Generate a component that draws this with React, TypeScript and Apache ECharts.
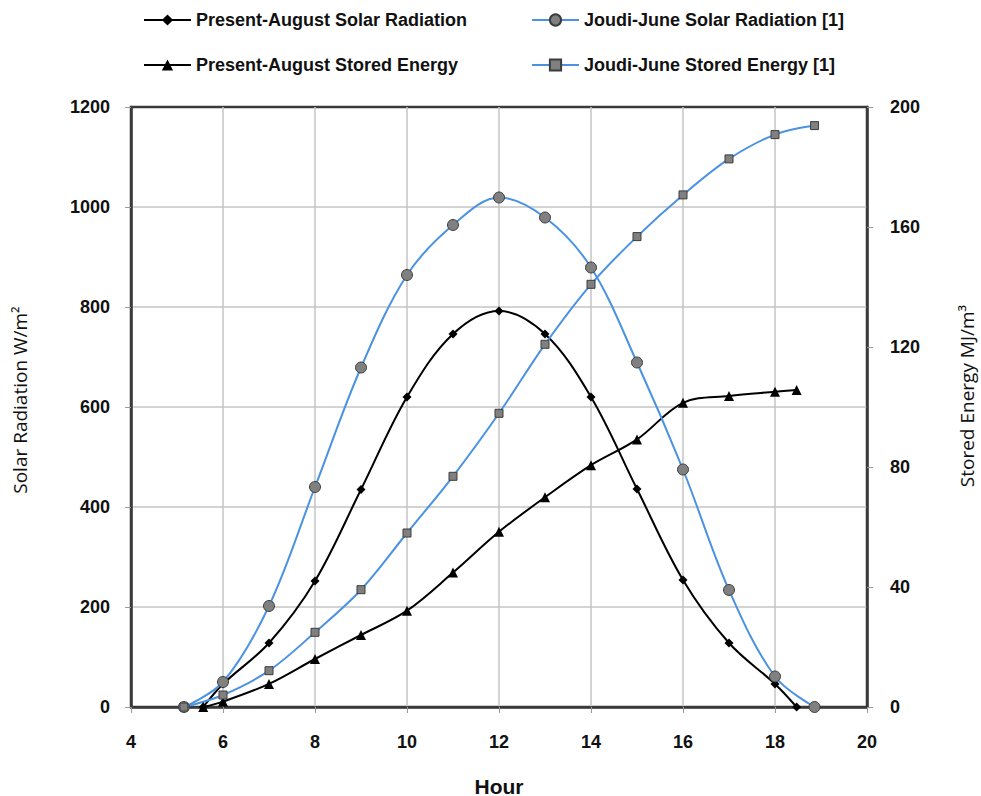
import React, { useEffect, useRef } from "react";
import * as echarts from "echarts";

const presentSolarHours = [5.57, 6, 7, 8, 9, 10, 11, 12, 13, 14, 15, 16, 17, 18, 18.47];
const presentSolar = [0, 46, 128, 252, 435, 620, 746, 792, 746, 620, 436, 254, 128, 46, 0];

const joudiSolarHours = [5.15, 6, 7, 8, 9, 10, 11, 12, 13, 14, 15, 16, 17, 18, 18.86];
const joudiSolar = [0, 50, 202, 440, 679, 864, 964, 1019, 979, 879, 689, 475, 234, 61, 0];

const presentStoredHours = [5.57, 6, 7, 8, 9, 10, 11, 12, 13, 14, 15, 16, 17, 18, 18.47];
const presentStored = [0, 1.8, 7.7, 16, 24, 32.1, 44.8, 58.4, 69.9, 80.6, 89.2, 101.4, 103.7, 105.1, 105.7];

const joudiStoredHours = [5.15, 6, 7, 8, 9, 10, 11, 12, 13, 14, 15, 16, 17, 18, 18.86];
const joudiStored = [0, 4, 12.1, 24.9, 39.1, 58, 76.9, 97.9, 120.9, 140.9, 156.8, 170.7, 182.7, 190.8, 193.8];

const seriesNames = [
  "Present-August Solar Radiation",
  "Joudi-June Solar Radiation [1]",
  "Present-August Stored Energy",
  "Joudi-June Stored Energy [1]",
];

const xTitle = "Hour";
const yLeftTitle = "Solar Radiation W/m²";
const yRightTitle = "Stored Energy MJ/m³";

const pair = (xs: number[], ys: number[]) => xs.map((x, i) => [x, ys[i]]);

const BLUE = "#4b92e3";
const FONT = "'Liberation Sans', Arial, sans-serif";
const FRAME = "#3a3a3a";

export default function App() {
  const ref = useRef<HTMLDivElement>(null);
  useEffect(() => {
    if (!ref.current) return;
    const chart = echarts.init(ref.current, undefined, { renderer: "svg" });
    const legendBase = {
      itemWidth: 47,
      itemHeight: 14,
      textStyle: { fontFamily: FONT, fontWeight: "bold" as const, fontSize: 18, color: "#111" },
      selectedMode: false,
      padding: 0,
    };
    const axisLabel = {
      fontFamily: FONT,
      fontWeight: "bold" as const,
      fontSize: 18,
      color: "#111",
      formatter: (v: number) => String(v),
    };
    const splitLine = {
      show: true,
      showMinLine: false,
      showMaxLine: false,
      lineStyle: { color: "#c4c4c4", width: 1.5 },
    };
    chart.setOption({
      animation: false,
      backgroundColor: "#fff",
      legend: [
        { ...legendBase, data: [seriesNames[0]], left: 143, top: 11 },
        { ...legendBase, data: [seriesNames[1]], left: 531, top: 11 },
        { ...legendBase, data: [seriesNames[2]], left: 143, top: 56 },
        { ...legendBase, data: [seriesNames[3]], left: 531, top: 56 },
      ],
      grid: {
        left: 131,
        right: 114,
        top: 107,
        bottom: 89,
        show: true,
        borderColor: FRAME,
        borderWidth: 2.5,
        backgroundColor: "transparent",
      },
      xAxis: {
        type: "value",
        min: 4,
        max: 20,
        interval: 2,
        axisLine: { show: true, onZero: false, lineStyle: { color: FRAME, width: 2.5 } },
        axisTick: { show: true, length: 6, lineStyle: { color: "#999" } },
        axisLabel: { ...axisLabel, margin: 26 },
        splitLine,
      },
      yAxis: [
        {
          type: "value",
          min: 0,
          max: 1200,
          interval: 200,
          axisLine: { show: true, lineStyle: { color: FRAME, width: 2.5 } },
          axisTick: { show: true, length: 6, lineStyle: { color: "#999" } },
          axisLabel: { ...axisLabel, margin: 21 },
          splitLine,
        },
        {
          type: "value",
          position: "right",
          min: 0,
          max: 200,
          interval: 40,
          axisLine: { show: true, lineStyle: { color: FRAME, width: 2.5 } },
          axisTick: { show: true, length: 6, lineStyle: { color: "#999" } },
          axisLabel: { ...axisLabel, margin: 23 },
          splitLine: { show: false },
        },
      ],
      graphic: [
        {
          type: "text",
          x: 499,
          y: 786,
          style: {
            text: xTitle,
            fontFamily: FONT,
            fontWeight: "bold",
            fontSize: 21,
            fill: "#111",
            textAlign: "center",
            textVerticalAlign: "middle",
          },
        },
        {
          type: "text",
          x: 20,
          y: 400,
          rotation: Math.PI / 2,
          style: {
            text: yLeftTitle,
            fontFamily: "'Open Sans', sans-serif",
            fontSize: 19,
            fill: "#111",
            textAlign: "center",
            textVerticalAlign: "middle",
          },
        },
        {
          type: "text",
          x: 967,
          y: 396,
          rotation: Math.PI / 2,
          style: {
            text: yRightTitle,
            fontFamily: "'Open Sans', sans-serif",
            fontSize: 19,
            fill: "#111",
            textAlign: "center",
            textVerticalAlign: "middle",
          },
        },
      ],
      series: [
        {
          name: seriesNames[0],
          type: "line",
          yAxisIndex: 0,
          data: pair(presentSolarHours, presentSolar),
          smooth: 0.35,
          symbol: "diamond",
          symbolSize: 9,
          lineStyle: { color: "#000", width: 2 },
          itemStyle: { color: "#000", borderColor: "#000", borderWidth: 0 },
        },
        {
          name: seriesNames[2],
          type: "line",
          yAxisIndex: 1,
          data: pair(presentStoredHours, presentStored),
          smooth: 0.35,
          symbol: "triangle",
          symbolSize: 10,
          lineStyle: { color: "#000", width: 2 },
          itemStyle: { color: "#000", borderColor: "#000", borderWidth: 0 },
        },
        {
          name: seriesNames[1],
          type: "line",
          yAxisIndex: 0,
          data: pair(joudiSolarHours, joudiSolar),
          smooth: 0.35,
          symbol: "circle",
          symbolSize: 11,
          lineStyle: { color: BLUE, width: 2 },
          itemStyle: { color: "#808080", borderColor: "#3c3c3c", borderWidth: 1 },
        },
        {
          name: seriesNames[3],
          type: "line",
          yAxisIndex: 1,
          data: pair(joudiStoredHours, joudiStored),
          smooth: 0.35,
          symbol: "rect",
          symbolSize: 8,
          lineStyle: { color: BLUE, width: 2 },
          itemStyle: { color: "#808080", borderColor: "#3c3c3c", borderWidth: 1 },
        },
      ],
    });
    return () => chart.dispose();
  }, []);
  return (
    <div
      ref={ref}
      style={{ position: "absolute", left: 0, top: 0, width: 981, height: 796 }}
    />
  );
}
